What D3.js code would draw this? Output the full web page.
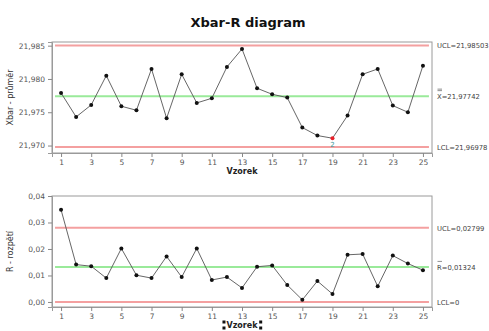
<!DOCTYPE html>
<html><head><meta charset="utf-8">
<script src="https://cdn.jsdelivr.net/npm/d3@7"></script>
<style>body{margin:0;background:#fff}svg{display:block}</style>
</head><body>
<script>
const samples = d3.range(1, 26);
const xbarValues = [21.9779,21.9743,21.9761,21.9805,21.9759,21.9753,21.9815,21.9741,21.9807,21.9764,21.9771,21.9818,21.9845,21.9786,21.9777,21.9772,21.9727,21.9715,21.9711,21.9745,21.9807,21.9815,21.9760,21.9750,21.9820];
const rValues = [0.0348,0.0141,0.0135,0.0090,0.0202,0.0101,0.0090,0.0172,0.0094,0.0202,0.0083,0.0094,0.0053,0.0133,0.0138,0.0064,0.0008,0.0079,0.0030,0.0178,0.0181,0.0059,0.0175,0.0145,0.0120];
const xbarLimits = {ucl:21.98503, cl:21.97742, lcl:21.96978};
const rLimits = {ucl:0.02799, cl:0.01324, lcl:0};
const xbarTicks = [21.970,21.975,21.980,21.985];
const rTicks = [0.00,0.01,0.02,0.03,0.04];
const xTicks = [1,3,5,7,9,11,13,15,17,19,21,23,25];
const xbarFlags = [{sample:19, label:"2"}];
const W=489,H=331;
const svg=d3.select("body").append("svg").attr("width",W).attr("height",H);
const font="DejaVu Sans, Verdana, sans-serif";
const fmt = d => d3.format(".3f")(d).replace(".",",");
const fmt2 = d => d3.format(".2f")(d).replace(".",",");

svg.append("text").attr("x",248).attr("y",27).attr("text-anchor","middle")
  .attr("font-family",font).attr("font-weight","bold").attr("font-size",13).attr("fill","#111").text("Xbar-R diagram");

const x = d3.scaleLinear().domain([0.4,25.6]).range([52,432]);

function panel(top,bottom,yDomain,ticks,tfmt,values,lim,ylab,labels,flags){
  const y=d3.scaleLinear().domain(yDomain).range([bottom,top]);
  const g=svg.append("g");
  g.append("rect").attr("x",52).attr("y",top).attr("width",380).attr("height",bottom-top)
    .attr("fill","#fff").attr("stroke","#9a9a9a").attr("stroke-width",1);
  [["ucl","#f4a0a0"],["lcl","#f4a0a0"],["cl","#9aea9a"]].forEach(([k,c])=>{
    g.append("line").attr("x1",x(1)-6).attr("x2",x(25)+6).attr("y1",y(lim[k])).attr("y2",y(lim[k]))
      .attr("stroke",c).attr("stroke-width",2);
  });
  const ya=d3.axisLeft(y).tickValues(ticks).tickFormat(tfmt).tickSize(4).tickPadding(3);
  const ga=g.append("g").attr("transform","translate(52,0)").call(ya);
  const xa=d3.axisBottom(x).tickValues(xTicks).tickFormat(d3.format("d")).tickSize(4).tickPadding(3);
  const gx=g.append("g").attr("transform",`translate(0,${bottom})`).call(xa);
  [ga,gx].forEach(a=>{
    a.select(".domain").attr("stroke","#9a9a9a");
    a.selectAll(".tick line").attr("stroke","#888");
    a.selectAll("text").attr("font-family",font).attr("font-size",7.5).attr("fill","#555");
  });
  g.append("text").attr("transform",`translate(13,${(top+bottom)/2}) rotate(-90)`).attr("text-anchor","middle")
    .attr("font-family",font).attr("font-size",8).attr("fill","#333").text(ylab);
  const line=d3.line().x((d,i)=>x(samples[i])).y(d=>y(d));
  g.append("path").datum(values).attr("d",line).attr("fill","none").attr("stroke","#555").attr("stroke-width",0.9);
  g.selectAll("circle.pt").data(values).join("circle").attr("class","pt")
    .attr("cx",(d,i)=>x(samples[i])).attr("cy",d=>y(d)).attr("r",2)
    .attr("fill",(d,i)=>flags.find(f=>f.sample===samples[i])?"#e8202a":"#111");
  flags.forEach(f=>{
    g.append("text").attr("x",x(f.sample)).attr("y",y(values[f.sample-1])+9).attr("text-anchor","middle")
      .attr("font-family",font).attr("font-size",7).attr("fill","#3a9a9a").text(f.label);
  });
  labels.forEach(l=>{
    const t=g.append("text").attr("x",437).attr("y",y(l.v)+3).attr("font-family",font).attr("font-size",6.8).attr("fill","#444");
    t.text(l.t);
    if(l.bar){
      g.append("line").attr("x1",437.5).attr("x2",442).attr("y1",y(l.v)-5.5).attr("y2",y(l.v)-5.5).attr("stroke","#444").attr("stroke-width",0.6);
      if(l.bar===2) g.append("line").attr("x1",437.5).attr("x2",442).attr("y1",y(l.v)-7).attr("y2",y(l.v)-7).attr("stroke","#444").attr("stroke-width",0.6);
    }
  });
  return y;
}
const fmtLim = v => String(v).replace(".",",");
panel(42,153,[21.96888,21.98555],xbarTicks,fmt,xbarValues,xbarLimits,"Xbar - průměr",
  [{v:xbarLimits.ucl,t:"UCL="+fmtLim(xbarLimits.ucl)},{v:xbarLimits.cl,t:"X="+fmtLim(xbarLimits.cl),bar:2},{v:xbarLimits.lcl,t:"LCL="+fmtLim(xbarLimits.lcl)}],xbarFlags);
panel(196,307,[-0.0019,0.0400],rTicks,fmt2,rValues,rLimits,"R - rozpětí",
  [{v:rLimits.ucl,t:"UCL="+fmtLim(rLimits.ucl)},{v:rLimits.cl,t:"R="+fmtLim(rLimits.cl),bar:1},{v:rLimits.lcl,t:"LCL="+fmtLim(rLimits.lcl)}],[]);

svg.append("text").attr("x",242).attr("y",174).attr("text-anchor","middle").attr("font-family",font)
  .attr("font-weight","bold").attr("font-size",8).attr("fill","#222").text("Vzorek");
const vz=svg.append("text").attr("x",242).attr("y",327.5).attr("text-anchor","middle").attr("font-family",font)
  .attr("font-weight","bold").attr("font-size",8).attr("fill","#222").text("Vzorek");
const bb=vz.node().getBBox();
[[bb.x-4,bb.y],[bb.x+bb.width+1,bb.y],[bb.x-4,bb.y+bb.height-3],[bb.x+bb.width+1,bb.y+bb.height-3]].forEach(([a,b])=>{
  svg.append("rect").attr("x",a).attr("y",b).attr("width",3).attr("height",3).attr("fill","#111");
});
</script>
</body></html>
